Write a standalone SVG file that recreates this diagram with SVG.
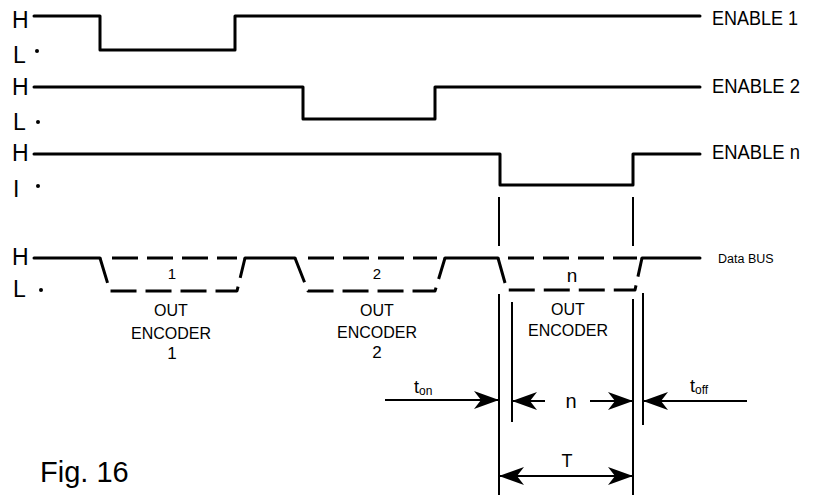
<svg xmlns="http://www.w3.org/2000/svg" width="819" height="495" viewBox="0 0 819 495">
<style>
.sig{fill:none;stroke:#000;stroke-width:3;stroke-linejoin:round;stroke-linecap:round}
.dash{fill:none;stroke:#000;stroke-width:3;stroke-dasharray:26 9;stroke-linejoin:round}
.vl{fill:none;stroke:#000;stroke-width:2}
.ar{fill:none;stroke:#000;stroke-width:2}
.lv{font-family:"Liberation Sans",Arial,sans-serif;font-size:23px;fill:#000}
.lab{font-family:"Liberation Sans",Arial,sans-serif;font-size:20px;fill:#000}
.enc{font-family:"Liberation Sans",Arial,sans-serif;font-size:16px;fill:#000;text-anchor:middle}
.dig{font-family:"Liberation Sans",Arial,sans-serif;font-size:15px;fill:#000;text-anchor:middle}
.dig2{font-family:"Liberation Sans",Arial,sans-serif;font-size:17px;fill:#000;text-anchor:middle}
.t{font-family:"Liberation Sans",Arial,sans-serif;font-size:18px;fill:#000}
.sub{font-size:12px}
</style>
<defs>
<marker id="ah" viewBox="-26 -10 27 20" refX="0" refY="0" markerWidth="27" markerHeight="20" markerUnits="userSpaceOnUse" orient="auto-start-reverse">
<path d="M0,0 L-25,-9 L-18,0 L-25,9 Z" fill="#000"/>
</marker>
</defs>

<g id="levels">
<text class="lv" x="12" y="28">H</text>
<text class="lv" x="13" y="63">L</text>
<circle cx="37" cy="51" r="2"/>
<text class="lv" x="12" y="95">H</text>
<text class="lv" x="13" y="130">L</text>
<circle cx="38" cy="122" r="2"/>
<text class="lv" x="12" y="161">H</text>
<text class="lv" x="13" y="197">I</text>
<circle cx="38" cy="186" r="2"/>
<text class="lv" x="12" y="265">H</text>
<text class="lv" x="13" y="297">L</text>
<circle cx="41" cy="290" r="2"/>
</g>

<g id="enable1">
<path class="sig" d="M34,16 H100 V50 H235 V16 H700"/>
<text class="lab" x="712" y="25" textLength="86" lengthAdjust="spacingAndGlyphs">ENABLE 1</text>
</g>
<g id="enable2">
<path class="sig" d="M34,87 H303 V119 H435 V87 H700"/>
<text class="lab" x="712" y="93" textLength="88" lengthAdjust="spacingAndGlyphs">ENABLE 2</text>
</g>
<g id="enablen">
<path class="sig" d="M34,154 H500 V185 H633 V154 H700"/>
<text class="lab" x="712" y="159" textLength="88" lengthAdjust="spacingAndGlyphs">ENABLE n</text>
</g>

<g id="databus">
<path class="sig" d="M34,258 H100"/>
<path class="dash" d="M100,258 L110,291 H237 L245,258"/>
<path class="dash" d="M112,258 H237"/>
<path class="sig" d="M245,258 H295"/>
<path class="dash" d="M295,258 L308,291 H435 L445,258"/>
<path class="dash" d="M308,258 H437"/>
<path class="sig" d="M445,258 H498"/>
<path class="dash" d="M498,258 L507,290 H635 L642,258"/>
<path class="dash" d="M508,258 H637"/>
<path class="sig" d="M642,258 H700"/>
<text x="718" y="263" font-family="Liberation Sans, Arial, sans-serif" font-size="12.5">Data BUS</text>
<text class="dig" x="172" y="279">1</text>
<text class="dig" x="377" y="279">2</text>
<text x="572" y="282" font-family="Liberation Sans, Arial, sans-serif" font-size="19" text-anchor="middle">n</text>
</g>

<g id="encoder1">
<text class="enc" x="171" y="316">OUT</text>
<text class="enc" x="171" y="339">ENCODER</text>
<text class="dig2" x="172" y="359">1</text>
</g>
<g id="encoder2">
<text class="enc" x="377" y="316">OUT</text>
<text class="enc" x="377" y="338">ENCODER</text>
<text class="dig2" x="377" y="358">2</text>
</g>
<g id="encodern">
<text class="enc" x="568" y="315">OUT</text>
<text class="enc" x="568" y="336">ENCODER</text>
</g>

<g id="connectors">
<path class="vl" d="M499,197 V246 M499,294 V495 M633,197 V246 M633,299 V495 M512,302 V422 M643,293 V425"/>
<path class="ar" d="M385,400 H499" marker-end="url(#ah)"/>
<path class="ar" d="M545,401 H512" marker-end="url(#ah)"/>
<path class="ar" d="M590,401 H633" marker-end="url(#ah)"/>
<path class="ar" d="M747,401 H643" marker-end="url(#ah)"/>
<path class="ar" d="M499,476 H633" marker-start="url(#ah)" marker-end="url(#ah)"/>
<text class="t" x="414" y="393">t<tspan class="sub" dy="2">on</tspan></text>
<text class="t" x="690" y="392">t<tspan class="sub" dy="2">off</tspan></text>
<text x="571" y="408" font-family="Liberation Sans, Arial, sans-serif" font-size="20" text-anchor="middle">n</text>
<text x="567" y="467" font-family="Liberation Sans, Arial, sans-serif" font-size="18" text-anchor="middle">T</text>
</g>

<text x="40" y="482" font-family="Liberation Sans, Arial, sans-serif" font-size="29">Fig. 16</text>
</svg>
